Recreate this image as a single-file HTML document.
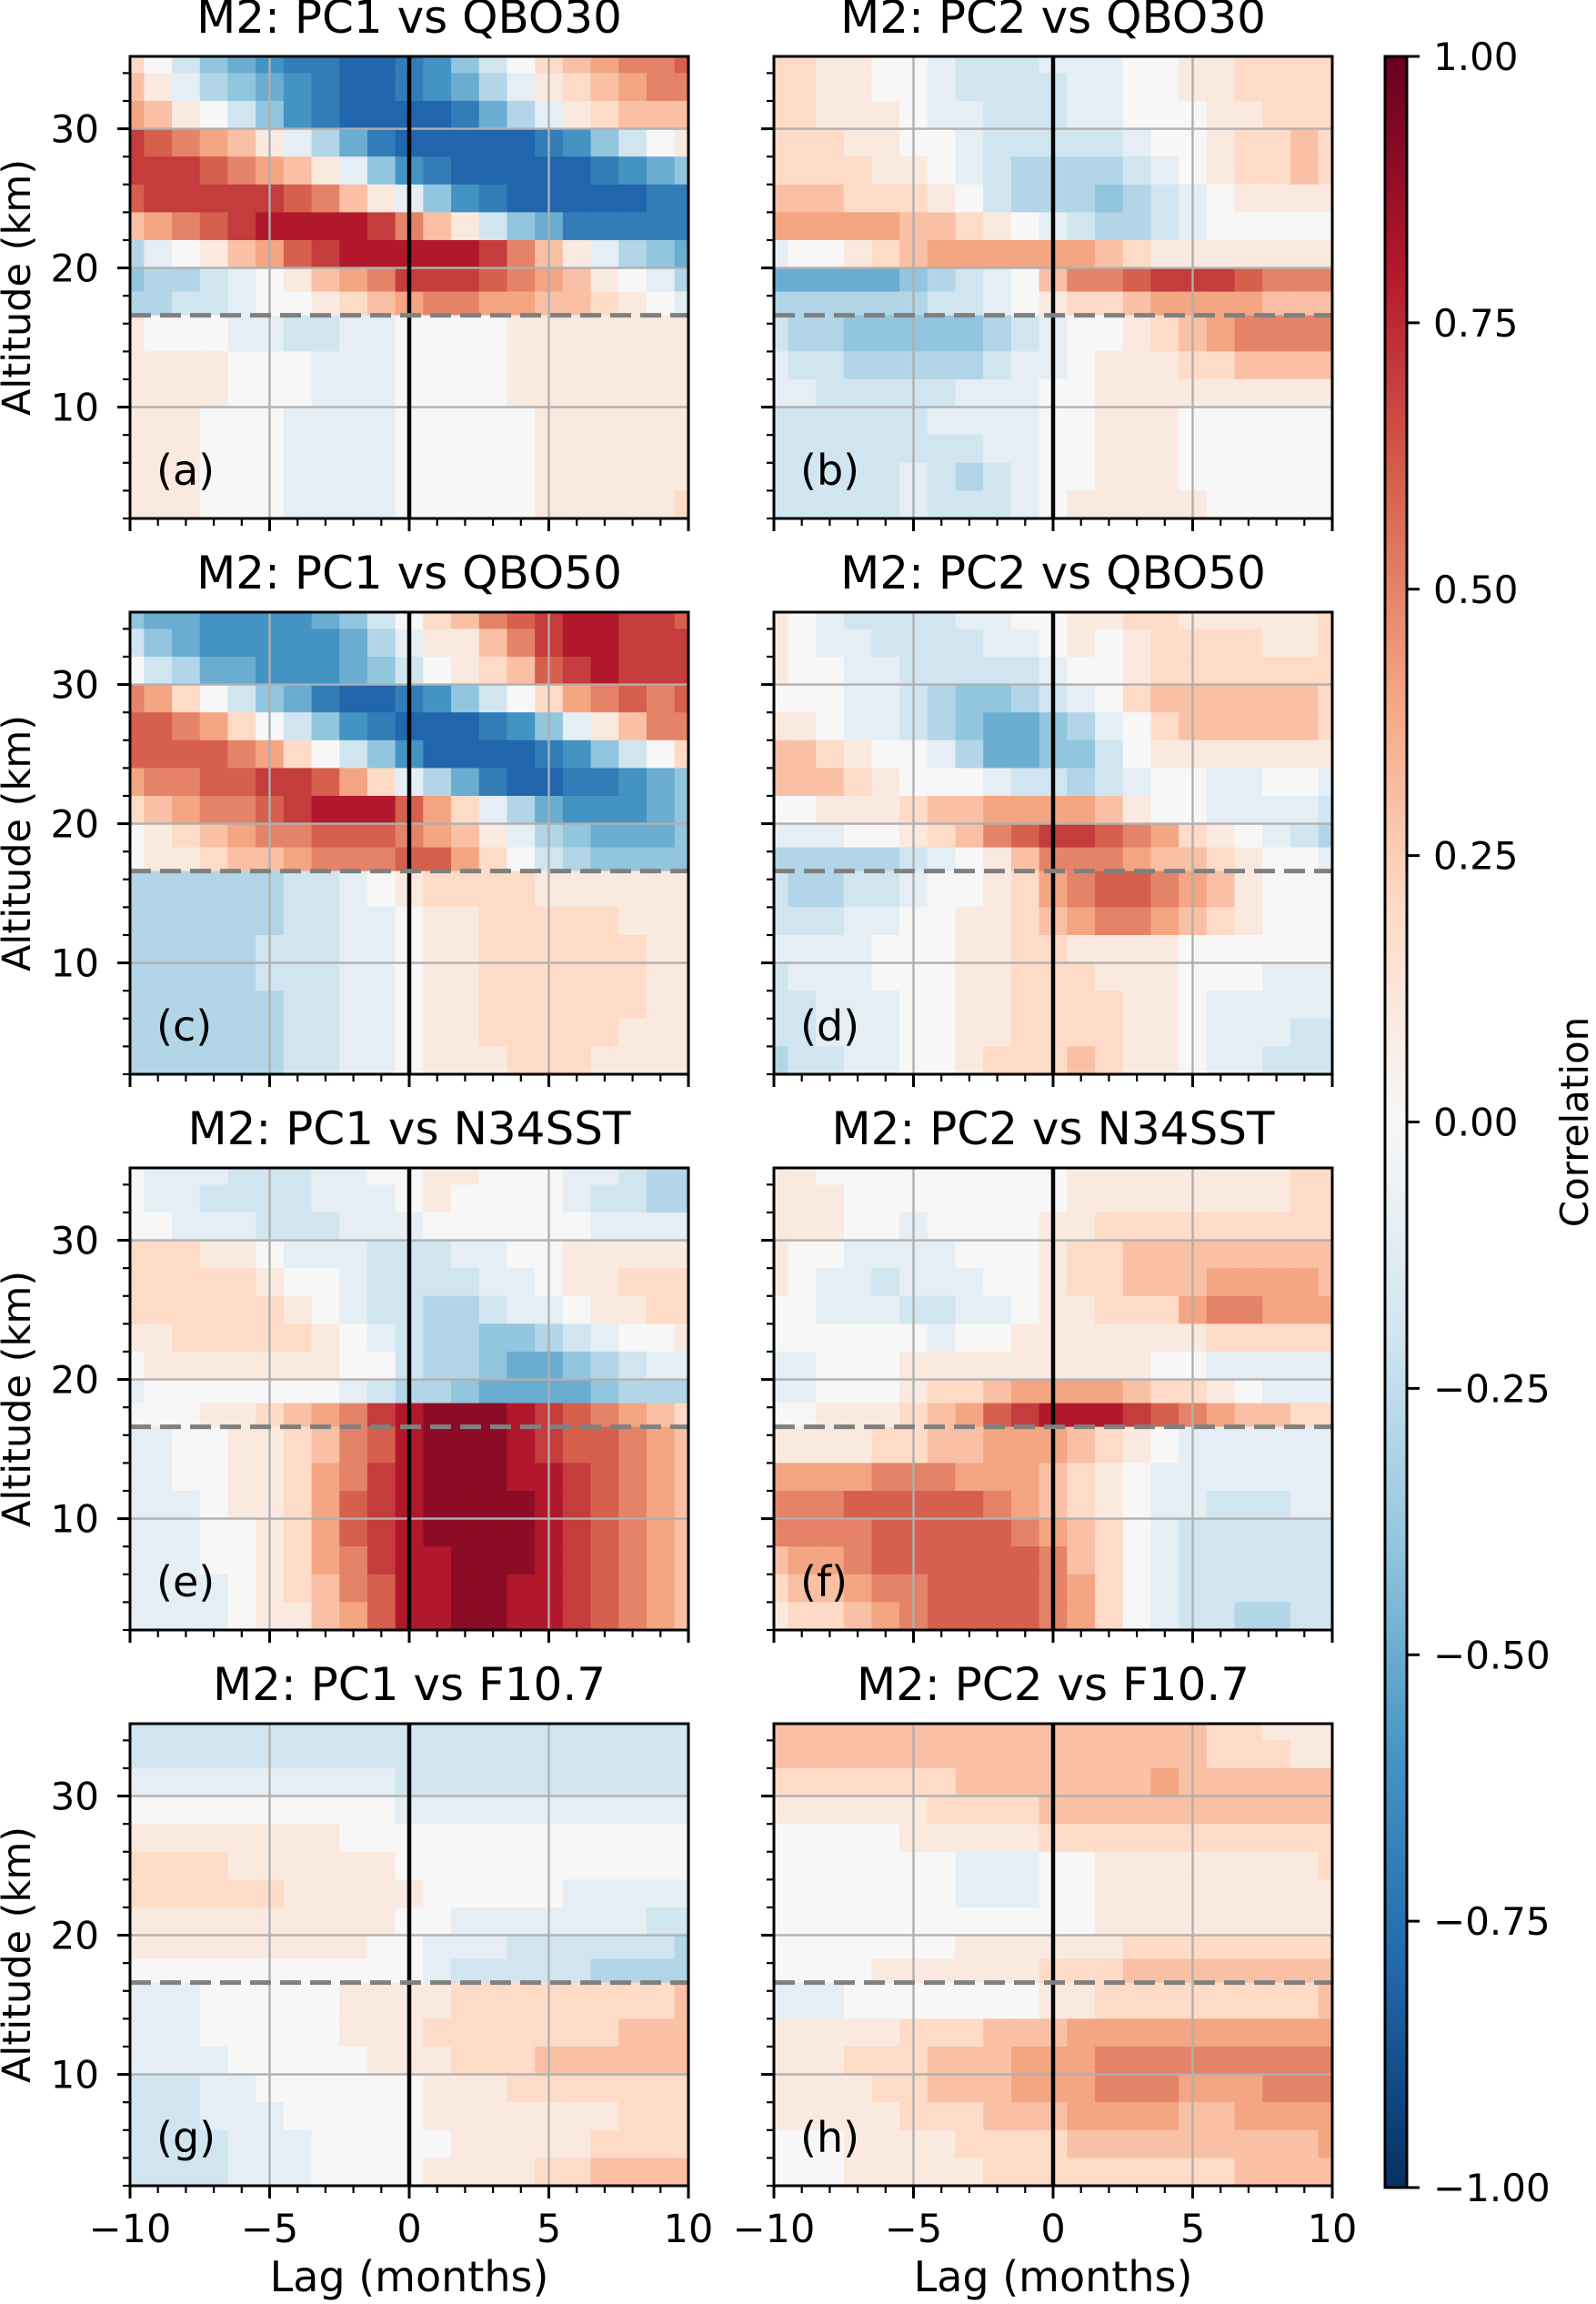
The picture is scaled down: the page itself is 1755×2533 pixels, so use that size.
<!DOCTYPE html>
<html><head><meta charset="utf-8">
<style>
html,body{margin:0;padding:0;background:#fff;}
svg{display:block;font-family:"DejaVu Sans","Liberation Sans",sans-serif;}
</style></head>
<body>
<svg id="fig" width="1755" height="2533" viewBox="0 0 1755 2533" xmlns="http://www.w3.org/2000/svg">
<defs>
<linearGradient id="cbgrad" x1="0" y1="1" x2="0" y2="0">
<stop offset="0" stop-color="#053061"/><stop offset="0.1" stop-color="#2166ac"/><stop offset="0.2" stop-color="#4393c3"/><stop offset="0.3" stop-color="#92c5de"/><stop offset="0.4" stop-color="#d1e5f0"/><stop offset="0.5" stop-color="#f7f7f7"/><stop offset="0.6" stop-color="#fddbc7"/><stop offset="0.7" stop-color="#f4a582"/><stop offset="0.8" stop-color="#d6604d"/><stop offset="0.9" stop-color="#b2182b"/><stop offset="1" stop-color="#67001f"/>
</linearGradient>
</defs>
</svg>
<script>
// ---- data ----
const lags = [-10,-9,-8,-7,-6,-5,-4,-3,-2,-1,0,1,2,3,4,5,6,7,8,9,10];
// altitude row edges (km), top to bottom
const altEdges = [35.2,34,32,30,28,26,24,22,20,18.3,16.6,14,12,10,8,6,4,2];
const tropopause = 16.6;
const titles = ["M2: PC1 vs QBO30","M2: PC2 vs QBO30","M2: PC1 vs QBO50","M2: PC2 vs QBO50","M2: PC1 vs N34SST","M2: PC2 vs N34SST","M2: PC1 vs F10.7","M2: PC2 vs F10.7"];
const panelLabels = ["(a)","(b)","(c)","(d)","(e)","(f)","(g)","(h)"];
const xTicks = [-10,-5,0,5,10];
const xTickLabels = ["\u221210","\u22125","0","5","10"];
const yTicks = [10,20,30];
const cbTicks = [1,0.75,0.5,0.25,0,-0.25,-0.5,-0.75,-1];
const cbTickLabels = ["1.00","0.75","0.50","0.25","0.00","\u22120.25","\u22120.50","\u22120.75","\u22121.00"];
// correlation values in tenths, one string per altitude row (top to bottom), 21 lags each
const panelA = [
"2 0 -2 -4 -5 -6 -7 -7 -8 -8 -7 -6 -4 -2 0 2 3 4 5 5 6",
"3 1 -1 -3 -4 -5 -6 -7 -8 -8 -7 -6 -5 -3 -1 1 2 3 4 5 5",
"4 3 1 0 -2 -4 -6 -7 -8 -8 -8 -8 -7 -5 -3 -1 1 2 3 3 3",
"7 6 5 4 3 1 -1 -3 -5 -7 -8 -8 -8 -8 -8 -7 -6 -4 -2 0 1",
"7 7 7 6 5 4 3 1 -1 -4 -6 -7 -8 -8 -8 -8 -8 -7 -6 -5 -4",
"6 7 7 7 7 7 6 5 3 1 -1 -4 -6 -7 -8 -8 -8 -8 -8 -7 -7",
"3 4 5 6 7 8 8 8 8 7 5 3 1 -2 -4 -5 -7 -7 -7 -7 -7",
"-3 -1 0 1 3 4 6 7 8 8 8 8 8 7 5 3 1 -1 -3 -4 -5",
"-4 -3 -3 -2 -1 0 1 3 4 5 7 7 7 6 5 4 3 1 0 -1 -3",
"-3 -3 -2 -2 -1 0 0 1 2 3 4 5 5 4 4 3 3 2 1 0 -1",
"1 0 0 0 -1 -1 -2 -2 -1 -1 0 0 0 0 1 1 1 1 1 1 1",
"1 1 1 1 0 0 0 -1 -1 -1 0 0 0 0 1 1 1 1 1 1 1",
"1 1 1 1 0 0 0 -1 -1 -1 0 0 0 0 1 1 1 1 1 1 1",
"1 1 1 0 0 0 -1 -1 -1 -1 0 0 0 0 0 1 1 1 1 1 1",
"1 1 1 0 0 0 -1 -1 -1 -1 0 0 0 0 0 1 1 1 1 1 1",
"1 1 1 0 0 0 -1 -1 -1 -1 0 0 0 0 0 1 1 1 1 1 1",
"1 1 1 0 0 0 -1 -1 -1 -1 0 0 0 0 0 1 1 1 1 1 2"];
const panelB = [
"2 2 1 1 0 0 -1 -2 -2 -2 -1 -1 -1 0 0 1 1 2 2 2 2",
"2 2 1 1 0 0 -1 -2 -2 -2 -2 -1 -1 0 0 1 1 2 2 2 2",
"2 2 1 1 1 0 -1 -1 -2 -2 -2 -1 -1 0 0 0 1 1 2 2 2",
"2 2 2 1 1 0 0 -1 -2 -2 -2 -2 -2 -1 0 0 1 2 2 3 2",
"2 2 2 2 1 1 0 -1 -2 -3 -3 -3 -3 -2 -1 0 1 2 2 3 2",
"3 3 3 2 2 2 1 0 -2 -3 -3 -3 -4 -3 -2 -1 0 1 1 1 1",
"4 4 4 4 4 3 3 2 1 0 -1 -2 -3 -3 -2 -1 0 0 0 0 0",
"-1 0 0 1 2 3 4 4 4 4 4 4 3 2 1 1 1 1 1 1 1",
"-5 -5 -5 -5 -5 -4 -3 -2 -1 0 3 5 5 6 7 7 7 6 5 5 5",
"-3 -3 -3 -3 -3 -3 -2 -2 -1 0 1 2 2 3 4 4 4 4 3 3 3",
"-2 -3 -3 -4 -4 -4 -4 -4 -3 -2 -1 0 0 1 2 3 4 5 5 5 5",
"-1 -2 -2 -3 -3 -3 -3 -3 -2 -1 -1 0 1 1 1 2 2 3 3 3 3",
"-1 -1 -2 -2 -2 -2 -2 -1 -1 -1 0 0 1 1 1 1 1 1 1 1 1",
"-2 -2 -2 -2 -2 -2 -1 -1 -1 -1 0 0 1 1 1 0 0 0 0 0 0",
"-2 -2 -2 -2 -2 -2 -2 -2 -1 -1 0 0 1 1 1 0 0 0 0 0 0",
"-2 -2 -2 -2 -2 -1 -2 -3 -2 -1 0 0 1 1 1 0 0 0 0 0 0",
"-2 -2 -2 -2 -2 -1 -2 -2 -2 -1 0 1 1 1 1 1 0 0 0 0 0"];
const panelC = [
"-4 -5 -5 -6 -6 -6 -6 -5 -4 -2 0 2 3 5 6 7 8 8 7 7 6",
"-2 -4 -5 -6 -6 -6 -6 -6 -5 -3 -1 1 1 3 5 7 8 8 7 7 7",
"0 -2 -3 -5 -5 -6 -6 -6 -5 -4 -2 0 1 2 3 6 7 8 7 7 7",
"5 4 2 0 -2 -4 -5 -7 -8 -8 -7 -6 -4 -2 0 2 4 5 6 5 6",
"6 6 5 4 2 0 -2 -4 -6 -7 -8 -8 -8 -7 -6 -4 -1 1 3 5 5",
"6 6 6 6 5 4 2 0 -2 -4 -6 -8 -8 -8 -8 -7 -6 -4 -2 0 2",
"4 5 5 6 6 7 7 6 4 2 -1 -3 -5 -7 -8 -8 -7 -7 -6 -5 -4",
"2 3 4 5 5 6 7 8 8 8 6 4 2 -1 -3 -5 -6 -6 -6 -5 -4",
"0 1 2 3 4 5 5 6 6 6 5 4 3 1 -1 -3 -4 -5 -5 -5 -4",
"0 1 1 2 3 3 4 5 5 5 6 6 4 2 0 -2 -3 -4 -4 -4 -4",
"-3 -3 -3 -3 -3 -3 -2 -2 -1 0 1 2 2 2 2 1 1 1 1 1 1",
"-3 -3 -3 -3 -3 -3 -2 -2 -1 -1 0 1 1 2 2 2 2 2 1 1 1",
"-3 -3 -3 -3 -3 -2 -2 -2 -1 -1 0 1 1 2 2 2 2 2 2 1 1",
"-3 -3 -3 -3 -3 -2 -2 -2 -1 -1 0 1 1 2 2 2 2 2 2 1 1",
"-3 -3 -3 -3 -3 -3 -2 -2 -1 -1 0 1 1 2 2 2 2 2 2 1 1",
"-3 -3 -3 -3 -3 -3 -2 -2 -1 -1 0 1 1 2 2 2 2 2 1 1 1",
"-3 -3 -3 -3 -3 -3 -2 -2 -1 -1 0 1 1 1 2 2 2 1 1 1 1"];
const panelD = [
"1 0 -1 -2 -2 -2 -2 -1 -1 0 0 1 1 2 2 1 1 1 1 1 2",
"1 0 -1 -1 -2 -2 -2 -2 -1 -1 0 1 0 1 2 2 2 2 1 1 2",
"1 0 0 -1 -1 -2 -2 -2 -2 -2 -1 0 0 1 2 2 2 2 2 2 2",
"0 0 0 -1 -1 -2 -3 -4 -4 -3 -2 -1 0 2 3 3 3 3 3 3 2",
"1 1 0 -1 -1 -2 -3 -4 -5 -5 -4 -3 -1 0 2 3 3 3 3 3 2",
"3 3 2 1 0 0 -1 -3 -5 -5 -4 -4 -2 0 1 1 1 1 1 1 1",
"3 3 3 2 1 0 0 0 -1 -2 -2 -3 -2 -1 0 0 -1 -1 0 0 -1",
"0 0 1 1 1 2 3 3 4 4 4 4 3 1 0 0 -1 -1 -1 -1 -2",
"-1 -1 -1 0 0 1 2 3 5 6 7 7 6 5 4 2 1 0 -1 -2 -3",
"-3 -3 -3 -3 -3 -2 -1 0 1 3 5 5 5 4 3 3 2 1 0 0 -1",
"-2 -3 -3 -2 -2 -1 0 0 1 2 4 5 6 6 5 4 3 1 0 0 0",
"-2 -2 -2 -1 -1 0 0 1 1 2 3 4 5 5 4 3 2 1 0 0 0",
"-1 -1 -1 -1 0 0 0 1 1 2 2 1 1 1 1 0 0 0 0 0 0",
"-2 -1 -1 -1 0 0 0 1 1 2 2 2 1 1 1 0 0 0 -1 -1 -1",
"-2 -2 -1 -1 -1 0 0 1 1 2 2 2 2 1 1 0 -1 -1 -1 -1 -1",
"-2 -2 -1 -1 -1 0 0 1 1 2 2 2 2 1 1 0 -1 -1 -1 -2 -2",
"-3 -2 -2 -1 -1 0 0 1 2 2 2 3 2 1 1 0 -1 -1 -2 -2 -2"];
const panelE = [
"0 -1 -1 -1 -2 -2 -2 -1 -1 0 0 1 1 0 0 0 -1 -1 -2 -3 -3",
"0 -1 -1 -2 -2 -2 -2 -1 -1 -1 0 1 0 0 0 0 -1 -2 -2 -3 -3",
"0 0 -1 -1 -1 -2 -2 -2 -1 -1 -1 0 0 0 0 0 0 -1 -1 -1 -1",
"2 2 2 1 1 0 -1 -1 -1 -2 -2 -2 -1 -1 0 0 1 1 1 1 1",
"2 2 2 2 2 1 0 0 -1 -2 -2 -2 -2 -1 -1 0 1 1 2 2 2",
"2 2 2 2 2 2 1 0 -1 -2 -2 -3 -3 -2 -1 -1 0 1 1 2 2",
"1 1 2 2 2 2 2 1 0 -1 -2 -3 -3 -4 -4 -3 -2 -1 0 0 1",
"0 1 1 1 1 1 1 1 0 0 -2 -3 -3 -4 -5 -5 -4 -3 -2 -1 -1",
"-1 0 0 0 0 0 0 0 -1 -2 -3 -3 -4 -5 -5 -5 -5 -4 -3 -3 -3",
"0 0 0 1 1 2 3 4 5 7 8 9 9 9 8 7 6 5 4 3 2",
"-1 -1 0 0 1 1 2 3 5 6 8 9 9 9 8 7 6 6 5 4 3",
"-1 -1 0 0 1 1 2 4 5 7 8 9 9 9 8 8 7 6 5 4 3",
"-1 -1 -1 0 1 1 2 4 6 7 8 9 9 9 9 8 7 6 5 4 3",
"-1 -1 -1 0 0 1 2 4 6 7 8 9 9 9 9 8 7 6 5 4 3",
"-1 -1 -1 0 0 1 2 4 5 7 8 8 9 9 9 8 7 6 5 4 3",
"-1 -1 -1 -1 0 1 2 3 5 6 8 8 9 9 8 8 7 6 5 4 3",
"-1 -1 -1 -1 0 1 1 3 4 6 8 8 9 9 8 8 7 6 5 4 3"];
const panelF = [
"1 1 0 0 0 0 0 0 0 0 0 1 1 1 1 1 1 1 1 2 2",
"1 1 1 0 0 0 0 0 0 0 0 1 1 1 1 1 1 1 1 2 2",
"1 1 1 0 0 -1 0 0 0 0 1 1 2 2 2 2 2 2 2 2 2",
"1 0 0 -1 -1 -1 -1 0 0 0 1 2 2 3 3 3 3 3 3 3 3",
"1 0 -1 -1 -2 -1 -1 -1 0 0 1 2 2 3 3 3 4 4 4 4 3",
"0 0 -1 -1 -1 -2 -2 -1 -1 0 1 1 2 2 2 4 5 5 4 4 4",
"0 0 0 0 0 0 -1 0 0 1 1 1 1 1 1 1 2 2 2 2 2",
"-1 -1 0 0 0 1 1 1 1 1 1 1 1 1 0 0 -1 -1 -1 -1 -1",
"-1 -1 0 0 0 1 2 2 3 4 4 4 4 3 2 2 1 0 -1 -1 -1",
"0 0 1 1 1 2 3 4 6 7 8 8 8 7 6 5 4 3 3 2 2",
"1 1 1 1 2 2 3 3 4 4 4 3 2 1 0 -1 -1 -1 -1 -1 -1",
"4 4 4 4 5 5 5 4 4 4 3 2 1 0 -1 -1 -1 -1 -1 -1 -1",
"5 5 5 6 6 6 6 6 5 4 3 2 1 0 -1 -1 -2 -2 -2 -1 -1",
"5 5 5 5 6 6 6 6 6 5 4 3 2 0 -1 -2 -2 -2 -2 -2 -2",
"3 4 4 5 6 6 6 6 6 6 5 3 2 0 -1 -2 -2 -2 -2 -2 -2",
"2 3 3 4 5 5 6 6 6 6 5 4 2 0 -1 -2 -2 -2 -2 -2 -2",
"1 2 2 3 4 5 6 6 6 6 5 4 2 0 -1 -2 -2 -3 -3 -2 -2"];
const panelG = [
"-2 -2 -2 -2 -2 -2 -2 -2 -2 -2 -2 -2 -2 -2 -2 -2 -2 -2 -2 -2 -2",
"-2 -2 -2 -2 -2 -2 -2 -2 -2 -2 -2 -2 -2 -2 -2 -2 -2 -2 -2 -2 -2",
"-1 -1 -1 -1 -1 -1 -1 -1 -1 -1 -2 -2 -2 -2 -2 -2 -2 -2 -2 -2 -2",
"0 0 0 0 0 0 0 0 0 0 -1 -1 -1 -1 -1 -1 -1 -1 -1 -1 -1",
"1 1 1 1 1 1 1 1 0 0 0 0 0 0 0 0 0 0 0 0 0",
"2 2 2 2 1 1 1 1 1 1 0 0 0 0 0 0 0 0 0 0 0",
"2 2 2 2 2 2 1 1 1 1 1 0 0 0 0 0 -1 -1 -1 -1 -1",
"1 1 1 1 1 1 1 1 1 1 0 0 -1 -1 -1 -1 -1 -1 -1 -2 -2",
"1 1 1 1 1 1 1 1 1 0 0 -1 -1 -1 -2 -2 -2 -2 -2 -2 -3",
"0 0 0 0 0 0 0 0 0 0 0 -1 -2 -2 -2 -2 -2 -3 -3 -3 -3",
"-1 -1 -1 0 0 0 0 0 1 1 1 1 2 2 2 2 2 2 2 2 3",
"-1 -1 -1 0 0 0 0 0 1 1 1 2 2 2 2 2 2 2 3 3 3",
"-1 -1 -1 -1 0 0 0 0 0 1 1 1 2 2 2 3 3 3 3 3 3",
"-2 -2 -2 -1 -1 0 0 0 0 0 0 1 1 1 2 2 2 2 2 2 2",
"-2 -2 -2 -1 -1 -1 0 0 0 0 0 1 1 1 1 1 1 1 2 2 2",
"-2 -2 -2 -2 -1 -1 -1 0 0 0 0 0 1 1 1 1 1 2 2 2 2",
"-2 -2 -2 -2 -1 -1 -1 0 0 0 0 1 1 1 1 2 2 3 3 3 3"];
const panelH = [
"3 3 3 3 3 3 3 3 3 3 3 3 3 3 3 3 2 2 1 1 1",
"3 3 3 3 3 3 3 3 3 3 3 3 3 3 3 3 2 2 2 1 1",
"2 2 2 2 2 2 2 3 3 3 3 3 3 3 4 3 3 3 3 3 3",
"1 1 1 1 1 1 2 2 2 2 3 3 3 3 3 3 3 3 3 3 3",
"0 0 0 0 0 1 1 1 1 1 2 2 2 2 2 2 2 2 2 2 2",
"0 0 0 0 0 0 0 -1 -1 -1 0 0 1 1 1 1 1 1 1 1 2",
"0 0 0 0 0 0 0 -1 -1 -1 0 0 1 1 1 1 1 1 1 1 1",
"0 0 0 0 0 0 0 0 0 0 0 0 1 1 1 1 1 1 1 1 1",
"0 0 0 0 0 0 0 1 1 1 1 1 1 2 2 2 2 2 2 2 2",
"0 0 0 0 1 1 1 1 1 1 2 2 2 3 3 3 3 3 3 3 3",
"-1 -1 -1 0 0 0 0 0 0 0 1 1 2 2 2 2 2 2 2 2 3",
"1 1 1 1 1 2 2 2 3 3 3 4 4 4 4 4 4 4 4 4 4",
"1 1 1 2 2 2 3 3 3 4 4 4 5 5 5 5 5 5 5 5 5",
"1 1 1 1 2 2 3 3 3 4 4 4 5 5 5 4 4 4 5 5 5",
"1 1 1 1 1 2 2 2 3 3 3 4 4 4 4 3 3 4 4 4 4",
"0 0 0 1 1 1 1 2 2 2 2 3 3 3 3 3 3 3 3 3 4",
"0 0 0 1 1 1 1 1 2 2 2 2 2 2 2 2 2 3 3 3 3"];
const panels = [panelA,panelB,panelC,panelD,panelE,panelF,panelG,panelH];

// ---- layout ----
const NS = "http://www.w3.org/2000/svg";
const svg = document.getElementById("fig");
const colLeft = [143, 851], panelW = 614;
const rowTop = [62, 673, 1284, 1895], panelH_px = 508;
const xMin = -10, xMax = 10, yMin = 2, yMax = 35.2;
const cbX = 1523, cbW = 24, cbTop = 62, cbBot = 2405;

const stops = [[-1,[5,48,97]],[-0.8,[33,102,172]],[-0.6,[67,147,195]],[-0.4,[146,197,222]],[-0.2,[209,229,240]],[0,[247,247,247]],[0.2,[253,219,199]],[0.4,[244,165,130]],[0.6,[214,96,77]],[0.8,[178,24,43]],[1,[103,0,31]]];
function cmap(v){
  v = Math.max(-1, Math.min(1, v));
  for (let i=0;i<stops.length-1;i++){
    const a=stops[i], b=stops[i+1];
    if (v<=b[0]){ const t=(v-a[0])/(b[0]-a[0]);
      const c=a[1].map((x,k)=>Math.round(x+(b[1][k]-x)*t)); return "rgb("+c.join(",")+")"; }
  }
  return "rgb(103,0,31)";
}
function mk(tag, attrs, parent){
  const e = document.createElementNS(NS, tag);
  for (const k in attrs) e.setAttribute(k, attrs[k]);
  (parent||svg).appendChild(e); return e;
}

panels.forEach((rows, p) => {
  const col = p % 2, row = Math.floor(p / 2);
  const L = colLeft[col], T = rowTop[row];
  const xs = v => L + (v - xMin) / (xMax - xMin) * panelW;
  const ys = a => T + (yMax - a) / (yMax - yMin) * panelH_px;
  const g = mk("g", {});
  
  
  const clipId = "clip" + p;
  const cp = mk("clipPath", {id: clipId}, g);
  mk("rect", {x: L, y: T, width: panelW, height: panelH_px}, cp);
  const cells = mk("g", {"clip-path": "url(#" + clipId + ")"}, g);
  
  
  rows.forEach((str, r) => {
    const vals = str.trim().split(/\s+/).map(Number);
    const y0 = ys(altEdges[r]), y1 = ys(altEdges[r+1]);
    vals.forEach((v, c) => {
      const x0 = xs(lags[c] - 0.5), x1 = xs(lags[c] + 0.5);
      const cell = mk("rect", {x: x0.toFixed(2), y: y0.toFixed(2), width: (x1-x0+0.6).toFixed(2), height: (y1-y0+0.6).toFixed(2), fill: cmap(v/10)}, cells);
      
      
    });
  });
  xTicks.forEach(t => { const gl = mk("line", {x1: xs(t), x2: xs(t), y1: T, y2: T+panelH_px, stroke: "#b0b0b0", "stroke-width": 2.4}, g);
      });
  yTicks.forEach(t => { const gl = mk("line", {x1: L, x2: L+panelW, y1: ys(t), y2: ys(t), stroke: "#b0b0b0", "stroke-width": 2.4}, g);
      });
  const zl = mk("line", {x1: xs(0), x2: xs(0), y1: T, y2: T+panelH_px, stroke: "#000", "stroke-width": 4.5}, g);
   
  const tl = mk("line", {x1: L, x2: L+panelW, y1: ys(tropopause), y2: ys(tropopause), stroke: "#808080", "stroke-width": 5, "stroke-dasharray": "23 10"}, g);
   
  const fr = mk("rect", {x: L, y: T, width: panelW, height: panelH_px, fill: "none", stroke: "#000", "stroke-width": 3}, g);
   
  for (let v = xMin; v <= xMax; v++) {
    const major = v % 5 === 0;
    const tk = mk("line", {x1: xs(v), x2: xs(v), y1: T+panelH_px, y2: T+panelH_px + (major?14:8), stroke: "#000", "stroke-width": major?3:2.2}, g);
     
  }
  for (let a = 2; a <= 34; a += 2) {
    const major = a % 10 === 0;
    const tk = mk("line", {x1: L, x2: L - (major?14:8), y1: ys(a), y2: ys(a), stroke: "#000", "stroke-width": major?3:2.2}, g);
     
  }
  if (col === 0) {
    yTicks.forEach(t => { const tx = mk("text", {x: L-34, y: ys(t)+15, "font-size": 42, "text-anchor": "end"}, g); tx.textContent = t;
        });
    const yl = mk("text", {x: 0, y: 0, "font-size": 43, "text-anchor": "middle", transform: "translate(33," + (T + panelH_px/2) + ") rotate(-90)"}, g);
    yl.textContent = "Altitude (km)";
     
  }
  if (row === 3) {
    xTicks.forEach((t, i) => { const tx = mk("text", {x: xs(t), y: T+panelH_px+62, "font-size": 43, "text-anchor": "middle"}, g); tx.textContent = xTickLabels[i];
        });
    const xl = mk("text", {x: L + panelW/2, y: T+panelH_px+116, "font-size": 46, "text-anchor": "middle"}, g);
    xl.textContent = "Lag (months)";
     
  }
  const ti = mk("text", {x: L + panelW/2, y: T - 26, "font-size": 50, "text-anchor": "middle"}, g);
  ti.textContent = titles[p];
   
  const pl = mk("text", {x: L + 29, y: T + 471, "font-size": 46}, g);
  pl.textContent = panelLabels[p];
   
});

const cbG = mk("g", {});


const cbs = v => cbTop + (1 - v) / 2 * (cbBot - cbTop);
const cbr = mk("rect", {x: cbX, y: cbTop, width: cbW, height: cbBot - cbTop, fill: "url(#cbgrad)", stroke: "#000", "stroke-width": 3}, cbG);
 
cbTicks.forEach((t, i) => {
  const tk = mk("line", {x1: cbX+cbW, x2: cbX+cbW+14, y1: cbs(t), y2: cbs(t), stroke: "#000", "stroke-width": 3}, cbG);
   
  const tx = mk("text", {x: 1576, y: cbs(t) + 15, "font-size": 42}, cbG);
  tx.textContent = cbTickLabels[i];
   
});
const cbl = mk("text", {x: 0, y: 0, "font-size": 42, "text-anchor": "middle", transform: "translate(1746," + ((cbTop+cbBot)/2) + ") rotate(-90)"}, cbG);
cbl.textContent = "Correlation";
 
</script>
</body></html>
